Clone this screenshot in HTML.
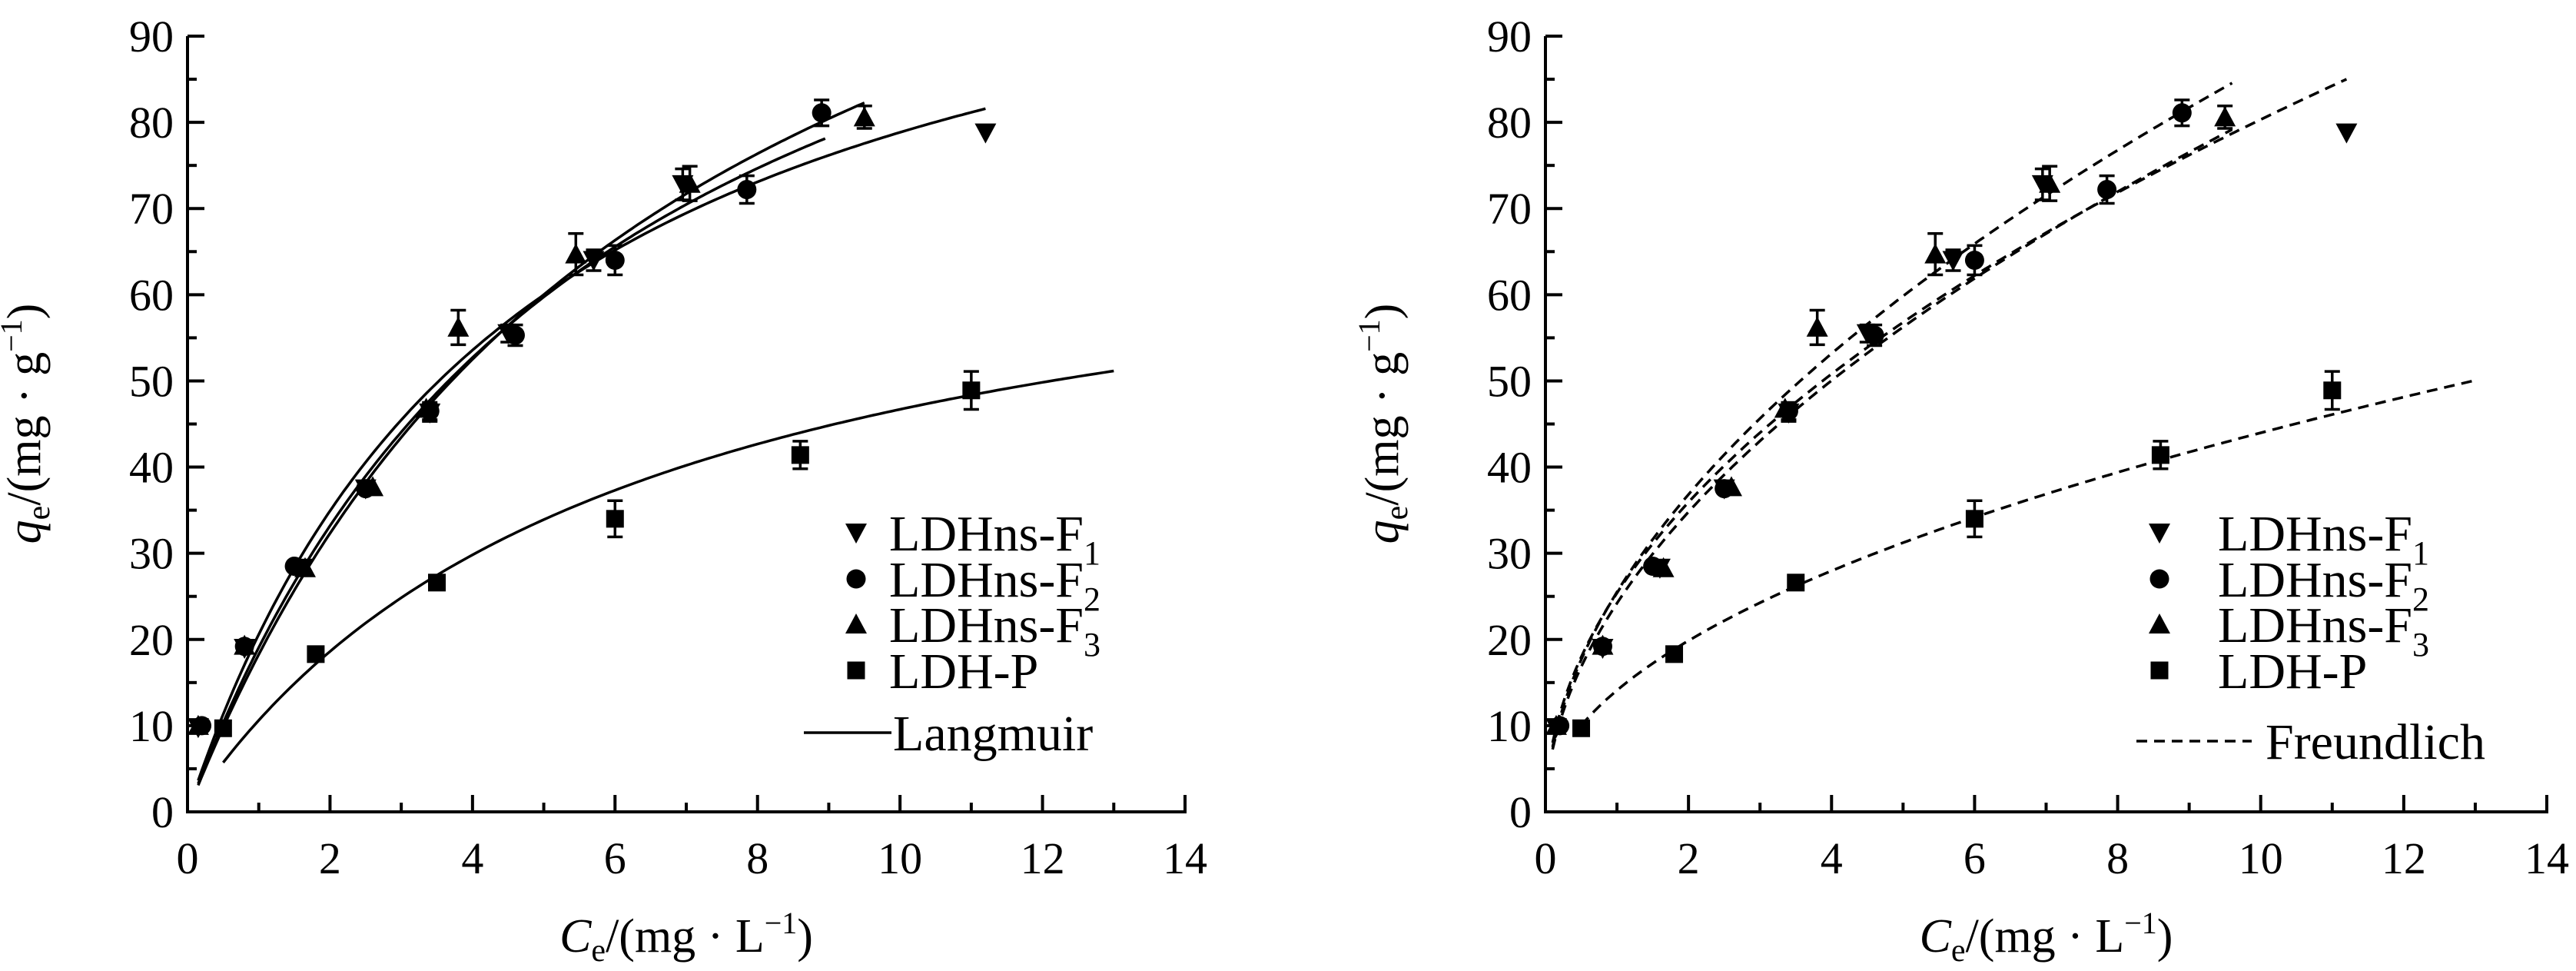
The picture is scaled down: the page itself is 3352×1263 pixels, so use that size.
<!DOCTYPE html>
<html><head><meta charset="utf-8"><style>
html,body{margin:0;padding:0;background:#fff;width:3352px;height:1263px;overflow:hidden}
svg{display:block}
text{font-family:"Liberation Serif","DejaVu Serif",serif;fill:#000}
</style></head><body>
<svg id="s" width="3352" height="1263" xmlns="http://www.w3.org/2000/svg"></svg>
<script>
const S=document.getElementById('s');let h='';
const Y0=1056,YS=(1056-47)/90;
function plot(X0,XS,legend,fits,dash){
 const px=x=>X0+x*XS, py=y=>Y0-y*YS;
 const X1=px(14);
 h+=`<path d="M${X0} ${py(90)} V${Y0} H${X1} V${Y0-14}" fill="none" stroke="#000" stroke-width="4"/>`;
 for(let i=0;i<=90;i+=5){const y=py(i);const L=i%10==0?22:12;h+=`<line x1="${X0}" x2="${X0+L}" y1="${y}" y2="${y}" stroke="#000" stroke-width="4"/>`;
  if(i%10==0)h+=`<text x="${X0-18}" y="${y+20}" font-size="58" text-anchor="end">${i}</text>`;}
 for(let i=0;i<=14;i++){const x=px(i);const L=i%2==0?22:12;h+=`<line x1="${x}" x2="${x}" y1="${Y0}" y2="${Y0-L}" stroke="#000" stroke-width="4"/>`;
  if(i%2==0)h+=`<text x="${x}" y="${Y0+80}" font-size="58" text-anchor="middle">${i}</text>`;}
 const cx=(X0+X1)/2;
 h+=`<text x="${cx}" y="1238" font-size="62" text-anchor="middle"><tspan font-style="italic">C</tspan><tspan font-size="42" dy="12">e</tspan><tspan dy="-12">/(mg · L</tspan><tspan font-size="40" dy="-24">−1</tspan><tspan dy="24">)</tspan></text>`;
 h+=`<text transform="translate(${X0-192},551) rotate(-90)" font-size="62" text-anchor="middle"><tspan font-style="italic">q</tspan><tspan font-size="42" dy="12">e</tspan><tspan dy="-12">/(mg · g</tspan><tspan font-size="40" dy="-24">−1</tspan><tspan dy="24">)</tspan></text>`;
 fits.forEach(f=>{let d='';for(let k=0;k<=200;k++){const c=f.a+(f.b-f.a)*k/200;d+=(k?'L':'M')+px(c).toFixed(1)+' '+py(f.fn(c)).toFixed(1);}
  h+=`<path d="${d}" fill="none" stroke="#000" stroke-width="3.5" ${dash?'stroke-dasharray="14 9"':''}/>`;});
 const F1=[[0.15,9.8],[0.8,19],[1.6,28.3],[2.5,37.5],[3.4,46.3,1],[4.5,55.5,1],[5.7,64,1.2],[6.95,72.8,1.8],[11.2,78.8]];
 const F2=[[0.2,10],[0.8,19.2],[1.5,28.5],[2.5,37.5],[3.4,46.5,1],[4.6,55.3,1.2],[6.0,64,1.7],[7.85,72.2,1.6],[8.9,81.1,1.5]];
 const F3=[[0.15,10],[0.8,19.3],[1.65,28.3],[2.6,37.7],[3.35,46.8],[3.8,56.2,2],[5.45,64.7,2.4],[7.05,72.9,2],[9.5,80.6,1.3]];
 const P=[[0.5,9.7],[1.8,18.3],[3.5,26.6,0.8],[6.0,34,2.1],[8.6,41.4,1.6],[11.0,48.9,2.2]];
 function err(p){if(!p[2])return;const x=px(p[0]),a=py(p[1]+p[2]),b=py(p[1]-p[2]);
  h+=`<path d="M${x} ${a}V${b}M${x-10} ${a}H${x+10}M${x-10} ${b}H${x+10}" stroke="#000" stroke-width="3.5" fill="none"/>`;}
 const mk={
  dn:(x,y)=>`<path d="M${x-14} ${y-12}H${x+14}L${x} ${y+14}Z"/>`,
  up:(x,y)=>`<path d="M${x-14} ${y+12}H${x+14}L${x} ${y-14}Z"/>`,
  ci:(x,y)=>`<circle cx="${x}" cy="${y}" r="12.5"/>`,
  sq:(x,y)=>`<rect x="${x-11.5}" y="${y-11.5}" width="23" height="23"/>`};
 [[P,'sq'],[F2,'ci'],[F3,'up'],[F1,'dn']].forEach(([D,m])=>D.forEach(p=>{err(p);h+=mk[m](px(p[0]),py(p[1]));}));
 const lx=legend.mx, tx=legend.tx, rows=[693,753,812,872];
 const names=[['dn','LDHns-F','1'],['ci','LDHns-F','2'],['up','LDHns-F','3'],['sq','LDH-P','']];
 names.forEach((n,i)=>{h+=mk[n[0]](lx,rows[i]);h+=`<text x="${tx}" y="${rows[i]+23}" font-size="66">${n[1]}${n[2]?`<tspan font-size="44" dy="18">${n[2]}</tspan>`:''}</text>`;});
 h+=`<line x1="${legend.l1}" x2="${legend.l2}" y1="${legend.ly}" y2="${legend.ly}" stroke="#000" stroke-width="3.5" ${dash?'stroke-dasharray="14 9"':''}/>`;
 h+=`<text x="${legend.lt}" y="${legend.ly+23}" font-size="66">${legend.name}</text>`;
}
const L=(qm,K)=>c=>qm*K*c/(1+K*c), Fr=(K,n)=>c=>K*Math.pow(c,n);
plot(244,(1542-244)/14,{mx:1114,tx:1157,l1:1046,l2:1160,ly:953,lt:1162,name:'Langmuir'},
 [{a:0.15,b:11.2,fn:L(115,0.218)},{a:0.15,b:8.95,fn:L(128,0.175)},{a:0.15,b:9.5,fn:L(140,0.15)},{a:0.5,b:13,fn:L(75,0.165)}],false);
plot(2011,(3314-2011)/14,{mx:2810,tx:2886,l1:2780,l2:2930,ly:964,lt:2948,name:'Freundlich'},
 [{a:0.1,b:11.2,fn:Fr(25.4,0.5)},{a:0.1,b:9.6,fn:Fr(25.5,0.53)},{a:0.1,b:9.6,fn:Fr(24.2,0.524)},{a:0.5,b:13,fn:Fr(14.1,0.494)}],true);
S.innerHTML=h;
</script>
</body></html>
